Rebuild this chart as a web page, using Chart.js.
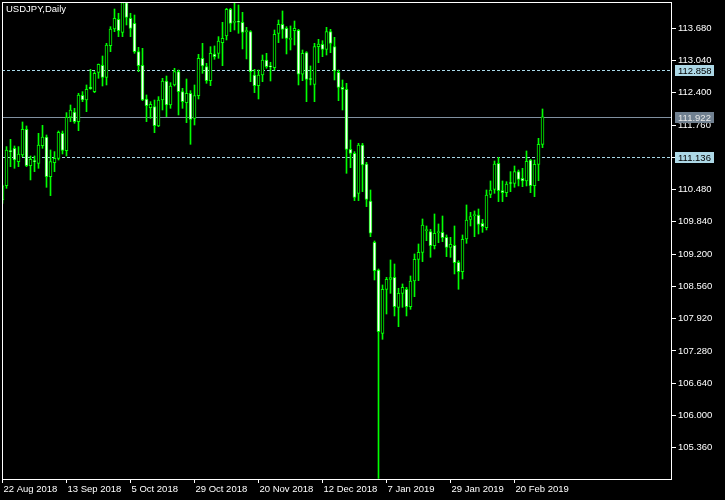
<!DOCTYPE html>
<html lang="en">
<head>
<meta charset="UTF-8" />
<title>USDJPY,Daily</title>
<style>
  html, body { margin: 0; padding: 0; background: #000; }
  canvas { display: block; }
</style>
</head>
<body>
<canvas id="myChart" width="725" height="500"></canvas>
<script src="https://cdn.jsdelivr.net/npm/chart.js@4.4.1/dist/chart.umd.min.js"></script>
<script>
const chartTitle = 'USDJPY,Daily';

// daily bars, 22 Aug 2018 .. 1 Mar 2019
const opens = [110.274,110.558,111.252,111.299,111.034,111.166,111.676,110.955,111.054,111.001,
  111.352,111.523,110.737,111.014,111.100,111.596,111.252,111.914,112.019,111.828,
  112.350,112.257,112.509,112.423,112.806,112.945,112.707,113.335,113.666,113.858,
  113.600,114.188,113.877,113.778,113.216,112.945,112.277,112.105,112.125,111.742,
  112.257,112.634,112.158,112.555,112.819,112.423,112.205,112.390,111.894,112.343,
  113.084,112.919,112.641,113.170,113.183,113.395,113.527,114.056,113.798,113.805,
  113.798,113.613,113.613,112.753,112.542,112.753,113.051,112.919,112.899,113.580,
  113.758,113.679,113.461,113.633,113.639,112.767,113.196,112.667,112.568,113.315,
  113.362,113.262,113.613,113.315,112.806,112.509,112.469,111.279,111.199,110.406,
  111.365,110.988,110.254,109.434,108.885,107.629,108.502,108.700,108.740,108.145,
  108.422,108.502,108.158,108.667,109.097,109.236,109.666,109.646,109.368,109.626,
  109.633,109.533,109.335,109.375,109.037,108.852,109.500,109.890,109.963,109.976,
  109.811,109.725,110.386,110.485,111.001,110.459,110.419,110.604,110.604,110.836,
  110.704,110.651,111.067,110.558,110.981,111.378];
const highs = [110.571,111.332,111.477,111.345,111.332,111.821,111.742,111.147,111.147,111.596,
  111.755,111.563,111.266,111.233,111.642,111.642,112.006,112.158,112.092,112.390,
  112.423,112.555,112.866,112.819,112.971,113.130,113.381,113.712,114.062,113.977,
  114.201,114.201,113.977,113.943,113.302,113.282,112.357,112.224,112.257,112.324,
  112.687,112.733,112.601,112.886,112.852,112.489,112.674,112.443,112.555,113.163,
  113.381,112.985,113.315,113.329,113.514,113.798,114.076,114.076,114.201,114.142,
  113.996,113.699,113.633,112.866,112.852,113.150,113.183,113.005,113.646,113.844,
  114.023,113.712,113.725,113.824,113.659,113.249,113.216,112.932,113.381,113.461,
  113.434,113.699,113.659,113.500,112.852,112.654,112.588,111.464,111.233,111.398,
  111.398,111.021,110.472,109.461,108.905,108.588,108.740,109.084,109.004,108.522,
  108.608,108.541,108.766,109.203,109.401,109.897,109.758,109.692,109.996,109.798,
  109.956,109.580,109.533,109.758,109.070,109.580,110.175,110.029,110.056,110.095,
  109.890,110.472,110.651,111.047,111.120,110.651,110.637,110.836,110.948,110.869,
  110.902,111.246,111.080,111.067,111.497,112.079];
const lows = [110.208,110.505,110.935,110.902,110.935,111.133,110.935,110.671,110.836,110.902,
  111.299,110.525,110.360,110.836,111.067,111.186,111.147,111.828,111.795,111.649,
  112.224,112.026,112.469,112.403,112.687,112.535,112.555,113.216,113.613,113.514,
  113.514,113.745,113.514,113.183,112.819,112.244,111.828,111.894,111.609,111.728,
  112.059,111.927,112.092,112.535,111.960,112.092,111.808,111.378,111.761,112.277,
  112.786,112.588,112.542,113.064,113.084,112.938,113.448,113.613,113.646,113.580,
  113.269,113.071,112.621,112.403,112.277,112.621,112.886,112.634,112.852,113.395,
  113.481,113.170,113.249,113.348,112.555,112.641,112.224,112.555,112.224,112.998,
  113.117,113.150,113.196,112.654,112.244,112.059,110.803,110.915,110.261,110.261,
  110.439,110.142,109.546,108.687,104.750,107.510,108.012,108.422,107.973,107.761,
  108.145,107.973,108.105,108.356,108.674,109.051,109.467,109.137,109.302,109.427,
  109.447,109.150,109.137,108.806,108.502,108.707,109.414,109.758,109.546,109.599,
  109.632,109.679,110.320,110.406,110.241,110.241,110.340,110.439,110.525,110.552,
  110.538,110.552,110.419,110.340,110.657,111.312];
const closes = [110.552,111.266,111.233,111.067,111.186,111.676,110.955,111.080,111.034,111.365,
  111.523,110.737,111.034,111.100,111.616,111.259,111.914,112.059,111.828,112.357,
  112.257,112.469,112.482,112.786,112.965,112.707,113.348,113.666,113.877,113.633,
  114.188,113.897,113.679,113.216,112.938,112.257,112.145,112.171,111.748,112.257,
  112.634,112.158,112.535,112.819,112.423,112.224,112.390,111.874,112.343,113.084,
  112.932,112.641,113.183,113.117,113.428,113.481,114.056,113.778,113.805,113.800,
  113.600,113.613,112.819,112.542,112.753,113.051,112.919,112.915,113.560,113.758,
  113.659,113.481,113.465,113.679,112.767,113.183,112.667,112.663,113.315,113.368,
  113.262,113.613,113.381,112.833,112.509,112.469,111.279,111.199,110.327,111.365,
  110.968,110.287,109.613,108.872,107.662,108.502,108.700,108.733,108.158,108.422,
  108.541,108.158,108.667,109.097,109.236,109.778,109.670,109.368,109.613,109.630,
  109.527,109.335,109.395,109.031,108.852,109.494,109.877,109.943,109.966,109.791,
  109.745,110.373,110.472,110.988,110.459,110.419,110.591,110.600,110.836,110.684,
  110.651,111.041,110.558,110.981,111.378,111.922];

const dateTickBars = [0, 16, 32, 48, 64, 80, 96, 112, 128];
const dateTickLabels = ['22 Aug 2018', '13 Sep 2018', '5 Oct 2018', '29 Oct 2018', '20 Nov 2018',
  '12 Dec 2018', '7 Jan 2019', '29 Jan 2019', '20 Feb 2019'];
const priceTicks = [105.36, 106.00, 106.64, 107.28, 107.92, 108.56, 109.20, 109.84,
  110.48, 111.12, 111.76, 112.40, 113.04, 113.68];
const dashedLevels = [112.858, 111.136];
const bidLevel = 111.922;

const GREEN = '#00ff00';
const FONT = '"Liberation Sans", Arial, sans-serif';
const FONT_SIZE = 9.5;

const bars = opens.map((o, i) => i);
const bodyData = bars.map(i => ({ x: i, y: [Math.min(opens[i], closes[i]), Math.max(opens[i], closes[i])] }));
const wickData = bars.map(i => ({ x: i, y: [lows[i], highs[i]] }));
const bodyFill = bars.map(i => (closes[i] < opens[i] ? '#ffffff' : '#000000'));

const mtPlugin = {
  id: 'mt',
  beforeDraw(chart) {
    const ctx = chart.ctx;
    ctx.save();
    ctx.fillStyle = '#000';
    ctx.fillRect(0, 0, chart.width, chart.height);
    ctx.restore();
  },
  beforeDatasetsDraw(chart) {
    const { ctx, chartArea: a, scales: { y } } = chart;
    ctx.save();
    ctx.lineWidth = 1;
    ctx.strokeStyle = '#a8d8e8';
    ctx.setLineDash([3, 2]);
    dashedLevels.forEach(v => {
      const py = Math.round(y.getPixelForValue(v)) + 0.5;
      ctx.beginPath();
      ctx.moveTo(a.left, py);
      ctx.lineTo(a.right, py);
      ctx.stroke();
    });
    ctx.setLineDash([]);
    ctx.strokeStyle = '#8090a0';
    const by = Math.round(y.getPixelForValue(bidLevel)) + 0.5;
    ctx.beginPath();
    ctx.moveTo(a.left, by);
    ctx.lineTo(a.right, by);
    ctx.stroke();
    ctx.restore();
  },
  afterDraw(chart) {
    const { ctx, chartArea: a, scales: { y } } = chart;
    ctx.save();
    // frame
    ctx.strokeStyle = '#ffffff';
    ctx.lineWidth = 1;
    ctx.strokeRect(a.left + 0.5, a.top + 0.5, a.right - a.left - 1, a.bottom - a.top);
    // price boxes
    ctx.font = FONT_SIZE + 'px ' + FONT;
    ctx.textBaseline = 'middle';
    ctx.textAlign = 'left';
    const box = (v, bg, fg) => {
      const py = Math.round(y.getPixelForValue(v));
      ctx.fillStyle = bg;
      ctx.fillRect(a.right + 3, py - 5, 39, 11);
      ctx.fillStyle = fg;
      ctx.fillText(v.toFixed(3), a.right + 6, py + 1);
    };
    dashedLevels.forEach(v => box(v, '#add8e6', '#000000'));
    box(bidLevel, '#708090', '#e8e8e8');
    // title
    ctx.fillStyle = '#ffffff';
    ctx.textBaseline = 'top';
    ctx.fillText(chartTitle, a.left + 4, a.top + 3);
    ctx.restore();
  }
};

new Chart(document.getElementById('myChart'), {
  type: 'bar',
  data: {
    datasets: [
      {
        data: bodyData,
        backgroundColor: bodyFill,
        borderColor: GREEN,
        borderWidth: 1,
        borderSkipped: false,
        grouped: false,
        categoryPercentage: 1,
        barPercentage: 1,
        maxBarThickness: 3,
        minBarLength: 1
      },
      {
        data: wickData,
        backgroundColor: GREEN,
        borderWidth: 0,
        grouped: false,
        categoryPercentage: 1,
        barPercentage: 1,
        maxBarThickness: 1
      }
    ]
  },
  options: {
    responsive: false,
    animation: false,
    events: [],
    layout: { padding: { left: 2, top: 2, right: 0, bottom: 0 } },
    plugins: { legend: { display: false }, tooltip: { enabled: false }, title: { display: false } },
    scales: {
      x: {
        type: 'linear',
        min: -0.125,
        max: 167.375,
        offset: false,
        bounds: 'data',
        grid: { display: true, drawOnChartArea: false, drawTicks: true, tickLength: 4, color: '#ffffff', offset: false },
        border: { display: false },
        ticks: {
          autoSkip: false,
          maxRotation: 0,
          align: 'start',
          labelOffset: 1,
          padding: 1,
          color: '#ffffff',
          font: { family: FONT, size: FONT_SIZE },
          callback: v => dateTickLabels[dateTickBars.indexOf(v)]
        },
        afterBuildTicks: s => { s.ticks = dateTickBars.map(v => ({ value: v })); },
        afterFit: s => { s.height = 21; s.paddingLeft = 0; s.paddingRight = 0; }
      },
      y: {
        position: 'right',
        min: 104.739,
        max: 114.201,
        bounds: 'data',
        beginAtZero: false,
        grid: { display: true, drawOnChartArea: false, drawTicks: true, tickLength: 4, color: '#ffffff' },
        border: { display: false },
        ticks: {
          padding: 2,
          color: '#ffffff',
          font: { family: FONT, size: FONT_SIZE },
          callback: v => Number(v).toFixed(3)
        },
        afterBuildTicks: s => { s.ticks = priceTicks.map(v => ({ value: v })); },
        afterFit: s => { s.width = 53; s.paddingTop = 0; s.paddingBottom = 0; }
      }
    }
  },
  plugins: [mtPlugin]
});
</script>
</body>
</html>
